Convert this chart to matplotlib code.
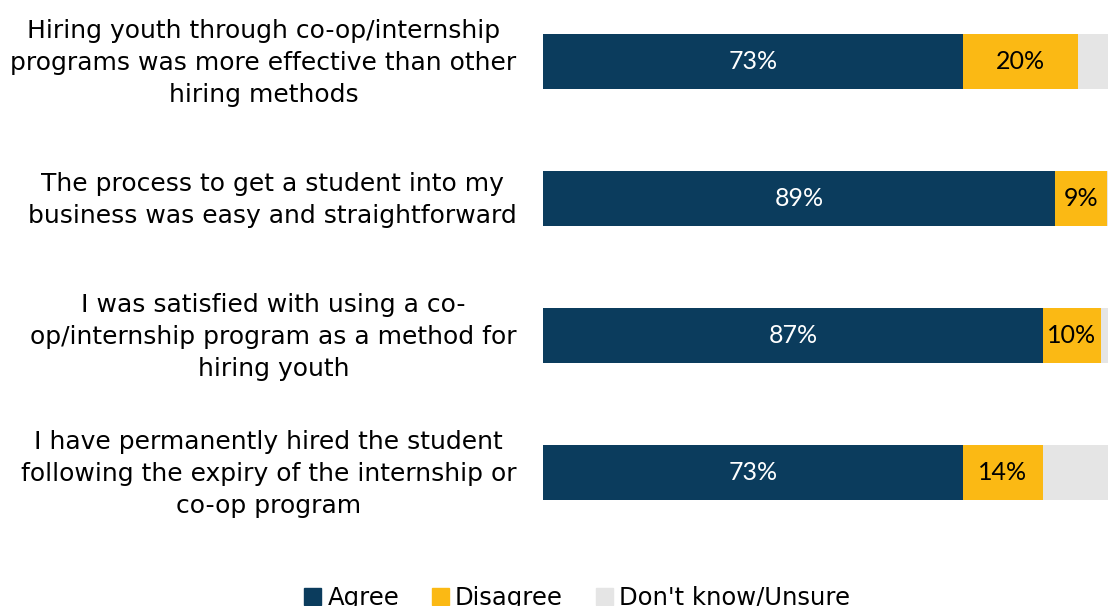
import matplotlib.pyplot as plt
from matplotlib.patches import Patch
from matplotlib.transforms import offset_copy

statements = [
    "Hiring youth through co-op/internship\nprograms was more effective than other\nhiring methods",
    "The process to get a student into my\nbusiness was easy and straightforward",
    "I was satisfied with using a co-\nop/internship program as a method for\nhiring youth",
    "I have permanently hired the student\nfollowing the expiry of the internship or\nco-op program",
]
agree = [73, 89, 87, 73]
disagree = [20, 9, 10, 14]
unsure = [7, 2, 3, 13]
series_names = ["Agree", "Disagree", "Don't know/Unsure"]

NAVY = "#0B3C5D"
GOLD = "#FBB914"
GREY = "#E5E5E5"

W, H = 1108, 606
fig = plt.figure(figsize=(W / 100, H / 100), dpi=100)
ax = fig.add_axes([543 / W, (H - 555) / H, 575 / W, 548 / H])

ypos = list(range(len(statements)))
h = 0.4
ax.barh(ypos, agree, height=h, color=NAVY)
ax.barh(ypos, disagree, left=agree, height=h, color=GOLD)
left3 = [a + d for a, d in zip(agree, disagree)]
ax.barh(ypos, unsure, left=left3, height=h, color=GREY)

for y, a, d in zip(ypos, agree, disagree):
    ax.text(a / 2, y, f"{a}%", ha="center", va="center", color="white",
            fontsize=18, family="Lato")
    ax.text(a + d / 2, y, f"{d}%", ha="center", va="center", color="black",
            fontsize=18, family="Lato")

ax.set_xlim(0, 100)
ax.set_ylim(3.6, -0.4)
ax.set_yticks(ypos)
ax.set_yticklabels(statements, fontsize=18, multialignment="center",
                   linespacing=1.42)
ax.tick_params(axis="y", length=0, pad=19)
for lbl in ax.get_yticklabels():
    lbl.set_transform(offset_copy(lbl.get_transform(), fig=fig, x=0, y=4, units="points"))
ax.set_xticks([])
for s in ax.spines.values():
    s.set_visible(False)

handles = [Patch(color=c) for c in (NAVY, GOLD, GREY)]
fig.legend(handles, series_names, loc="upper center",
           bbox_to_anchor=(577 / W, (H - 564) / H), ncol=3, frameon=False,
           fontsize=17.5, handlelength=0.7, handleheight=0.7, handletextpad=0.25,
           columnspacing=1.35)

fig.savefig("out.png", dpi=100)
